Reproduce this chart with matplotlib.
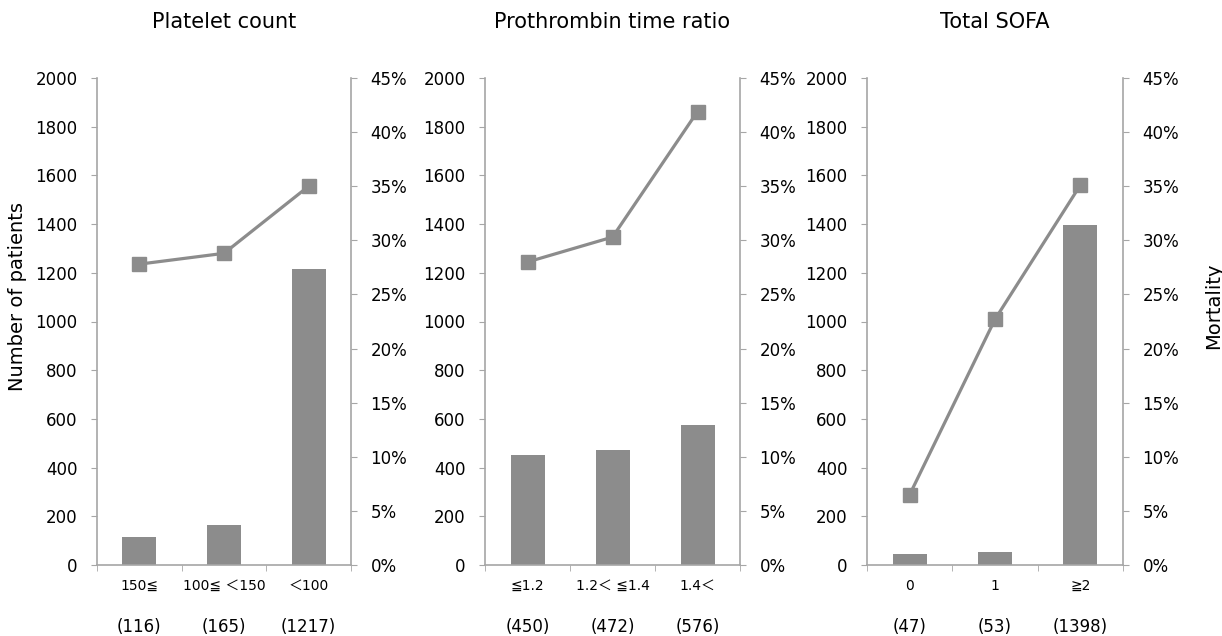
import matplotlib.pyplot as plt
import numpy as np
from matplotlib.ticker import FuncFormatter

plt.rcParams['font.family'] = ['DejaVu Sans', 'Noto Sans CJK JP']

titles = ["Platelet count", "Prothrombin time ratio", "Total SOFA"]
categories = [
    ["150≦", "100≦ ＜150", "＜100"],
    ["≦1.2", "1.2＜ ≦1.4", "1.4＜"],
    ["0", "1", "≧2"],
]
patients = [
    [116, 165, 1217],
    [450, 472, 576],
    [47, 53, 1398],
]
mortality = [
    [27.8, 28.8, 35.0],
    [28.0, 30.3, 41.9],
    [6.5, 22.7, 35.1],
]

GREY = '#8c8c8c'
SPINE = '#a6a6a6'

fig = plt.figure(figsize=(12.22, 6.36), dpi=100)
lefts = [97, 485, 867]
widths = [254, 255, 256]

for i in range(3):
    ax = fig.add_axes([lefts[i] / 1222, 71 / 636, widths[i] / 1222, 487 / 636])
    x = np.arange(3)
    ax.bar(x, patients[i], width=0.4, color=GREY, zorder=2)
    ax.set_xlim(-0.5, 2.5)
    ax.set_ylim(0, 2000)
    ax.set_yticks(np.arange(0, 2001, 200))
    ax.set_xticks(x)
    ax.set_xticklabels(categories[i], fontsize=10)
    ax.set_xticks([-0.5, 0.5, 1.5, 2.5], minor=True)
    ax.tick_params(axis='x', which='major', length=0, pad=10)
    ax.tick_params(axis='x', which='minor', length=4, color=SPINE, direction='out')
    ax.tick_params(axis='y', length=4, color=SPINE, labelsize=12, pad=10)
    for s in ['left', 'bottom']:
        ax.spines[s].set_color(SPINE)
        ax.spines[s].set_linewidth(1.2)
    ax.spines['top'].set_visible(False)
    ax.spines['right'].set_visible(False)
    ax.text(0.5, 1.115, titles[i], transform=ax.transAxes, ha='center', va='center',
            fontsize=15)
    for j in range(3):
        ax.text(j, -0.127, "(%d)" % patients[i][j], transform=ax.get_xaxis_transform(),
                ha='center', va='center', fontsize=12)

    ax2 = ax.twinx()
    ax2.plot(x, mortality[i], color=GREY, lw=2.3, marker='s', markersize=10, zorder=3)
    ax2.set_ylim(0, 45)
    ax2.set_yticks(np.arange(0, 46, 5))
    ax2.yaxis.set_major_formatter(FuncFormatter(lambda v, p: "%d%%" % v))
    ax2.tick_params(axis='y', length=4, color=SPINE, labelsize=12, pad=10)
    ax2.spines['right'].set_color(SPINE)
    ax2.spines['right'].set_linewidth(1.2)
    for s in ['left', 'top', 'bottom']:
        ax2.spines[s].set_visible(False)

    if i == 0:
        ax.set_ylabel("Number of patients", fontsize=14)
        ax.yaxis.set_label_coords(-0.276, 0.552)
    if i == 2:
        ax2.set_ylabel("Mortality", fontsize=14)
        ax2.yaxis.set_label_coords(1.318, 0.532)

fig.savefig('out.png', dpi=100)
